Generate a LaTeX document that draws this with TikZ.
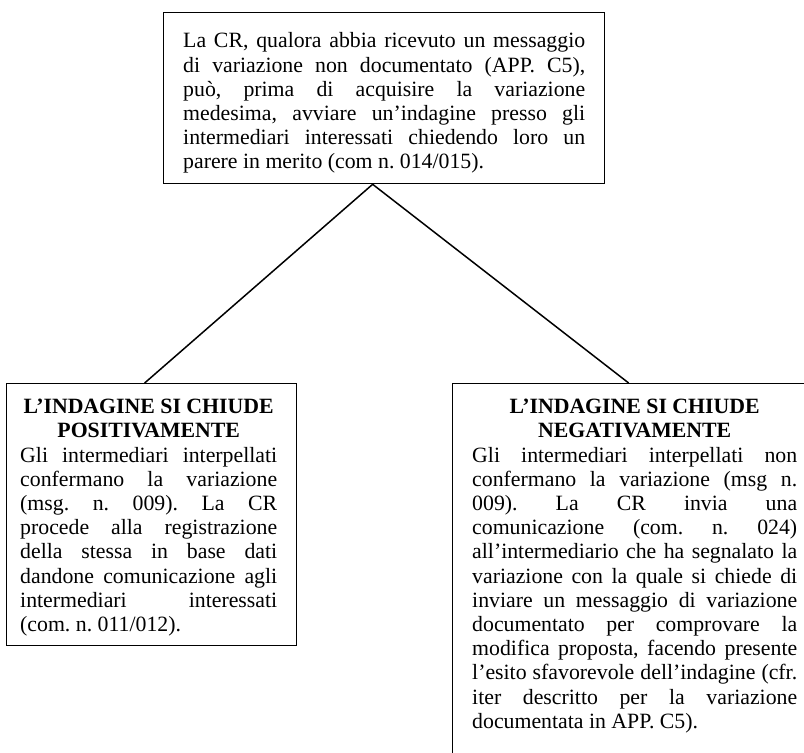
\documentclass[tikz,border=0pt]{standalone}
\usepackage{fontspec}
\setmainfont{Liberation Serif}
\usetikzlibrary{calc}
\begin{document}
\begin{tikzpicture}[x=1pt,y=-1pt,
  boxframe/.style={draw=black,line width=1.3pt,inner sep=0pt,anchor=north west},
  txt/.style={inner sep=0pt,anchor=north west,align=justify,
    font=\fontsize{21.8}{24.2}\selectfont\frenchspacing},
  link/.style={draw=black,line width=1.5pt}]
\useasboundingbox (0,0) rectangle (804,753);
\clip (0,0) rectangle (804,753);
% boxes
\node[boxframe,minimum width=441pt,minimum height=171pt] (top) at (163,12) {};
\node[boxframe,minimum width=290pt,minimum height=262pt] (lbox) at (6,383) {};
\node[boxframe,minimum width=380pt,minimum height=420pt] (rbox) at (452,383) {};
% texts
\node[txt,text width=402pt] (toptext) at (183,32.5) {%
La CR, qualora abbia ricevuto un messaggio\linebreak
di variazione non documentato (APP. C5),\linebreak
può, prima di acquisire la variazione\linebreak
medesima, avviare un’indagine presso gli\linebreak
intermediari interessati chiedendo loro un\linebreak
parere in merito (com n. 014/015).};
\node[txt,text width=257pt] (ltext) at (20,399) {%
{\centering\bfseries L’INDAGINE SI CHIUDE\\POSITIVAMENTE\par}%
Gli intermediari interpellati\linebreak
confermano la variazione\linebreak
(msg. n. 009). La CR\linebreak
procede alla registrazione\linebreak
della stessa in base dati\linebreak
dandone comunicazione agli\linebreak
intermediari interessati\linebreak
(com. n. 011/012).};
\node[txt,text width=325pt] (rtext) at (472,399) {%
{\centering\bfseries L’INDAGINE SI CHIUDE\\NEGATIVAMENTE\par}%
Gli intermediari interpellati non\linebreak
confermano la variazione (msg n.\linebreak
009). La CR invia una\linebreak
comunicazione (com. n. 024)\linebreak
all’intermediario che ha segnalato la\linebreak
variazione con la quale si chiede di\linebreak
inviare un messaggio di variazione\linebreak
documentato per comprovare la\linebreak
modifica proposta, facendo presente\linebreak
l’esito sfavorevole dell’indagine (cfr.\linebreak
iter descritto per la variazione\linebreak
documentata in APP. C5).};
% connectors
\coordinate (apex) at ([xshift=-11.5pt]top.south);
\draw[link] ([xshift=-7pt]lbox.north) -- (apex) -- ([xshift=-14pt]rbox.north);
\end{tikzpicture}
\end{document}
